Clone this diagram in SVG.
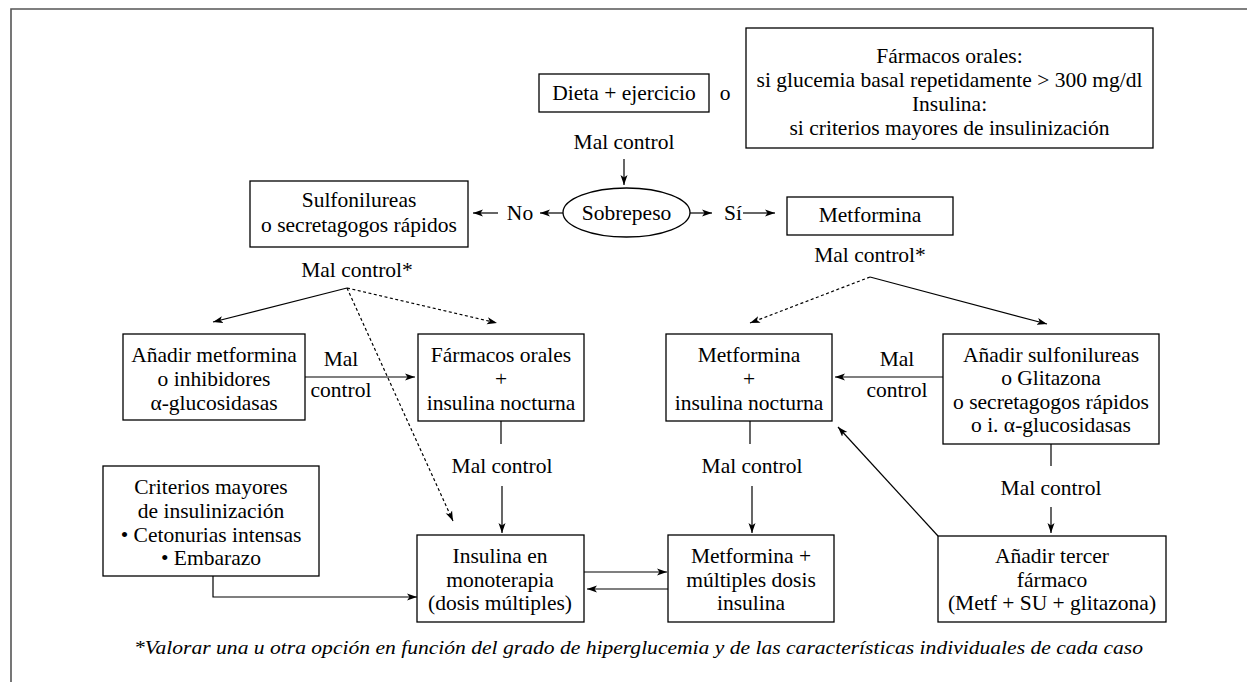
<svg xmlns="http://www.w3.org/2000/svg" width="1247" height="682" viewBox="0 0 1247 682">
<defs>
<marker id="ah" markerWidth="10" markerHeight="8" refX="10" refY="4" orient="auto" markerUnits="userSpaceOnUse"><path d="M0,0.5 L10,4 L0,7.5 L2.5,4 z" fill="#000" stroke="none"/></marker>
</defs>
<style>
text{font-family:"Liberation Serif","Times New Roman",serif;font-size:21.5px;fill:#000;text-anchor:middle}
.box{fill:#fff;stroke:#000;stroke-width:1.3}
.ln{fill:none;stroke:#000;stroke-width:1.2}
.ar{marker-end:url(#ah)}
.dash{stroke-dasharray:3 2.5}
.frame{stroke:#555;stroke-width:1.6;fill:none}
.note{font-style:italic;font-size:19px}
</style>
<rect width="1247" height="682" fill="#fff"/>
<path class="frame" d="M11,682 V9 H1247"/>

<g id="connectors">
<path class="ln ar" d="M624,159 V185"/>
<path class="ln ar" d="M563,213 H540"/>
<path class="ln ar" d="M498,213 H473"/>
<path class="ln ar" d="M690,213 H712"/>
<path class="ln ar" d="M743,213 H775"/>
<path class="ln ar" d="M347,288 L213,322"/>
<path class="ln ar dash" d="M347,288 L497,323"/>
<path class="ln ar dash" d="M347,288 L453,521"/>
<path class="ln ar dash" d="M870,277 L750,323"/>
<path class="ln ar" d="M870,277 L1047,324"/>
<path class="ln ar" d="M305,377 H415"/>
<path class="ln ar" d="M943,377 H835"/>
<path class="ln" d="M501,421 V444"/>
<path class="ln" d="M750,421 V444"/>
<path class="ln" d="M1051,444 V466"/>
<path class="ln ar" d="M502,486 V533"/>
<path class="ln ar" d="M752,486 V533"/>
<path class="ln ar" d="M1051,507 V533"/>
<path class="ln ar" d="M213,576 V597 H417"/>
<path class="ln ar" d="M584,572 H667"/>
<path class="ln ar" d="M668,589 H587"/>
<path class="ln ar" d="M938,536 L838,427"/>
<text x="624" y="149">Mal control</text>
<text x="520" y="220">No</text>
<text x="733" y="220">Sí</text>
<text x="357" y="277">Mal control*</text>
<text x="870" y="262">Mal control*</text>
<text x="341" y="366">Mal</text>
<text x="341" y="397">control</text>
<text x="897" y="366">Mal</text>
<text x="897" y="397">control</text>
<text x="502" y="473">Mal control</text>
<text x="752" y="473">Mal control</text>
<text x="1051" y="495">Mal control</text>
</g>

<g id="dieta">
<rect class="box" x="539" y="74" width="170" height="38"/>
<text x="624" y="100">Dieta + ejercicio</text>
</g>
<g id="o-label"><text x="725" y="100">o</text></g>
<g id="farmacos-insulina">
<rect class="box" x="746" y="28" width="407" height="120"/>
<text x="949.5" y="63">Fármacos orales:</text>
<text x="949.5" y="87">si glucemia basal repetidamente &gt; 300 mg/dl</text>
<text x="949.5" y="111">Insulina:</text>
<text x="949.5" y="135">si criterios mayores de insulinización</text>
</g>
<g id="sobrepeso">
<ellipse class="box" cx="626.5" cy="212.5" rx="63.5" ry="24.5"/>
<text x="626.5" y="220">Sobrepeso</text>
</g>
<g id="sulfonilureas">
<rect class="box" x="250" y="181" width="218" height="66"/>
<text x="359" y="207">Sulfonilureas</text>
<text x="359" y="232">o secretagogos rápidos</text>
</g>
<g id="metformina">
<rect class="box" x="787" y="197" width="166" height="38"/>
<text x="870" y="222">Metformina</text>
</g>
<g id="anadir-metformina">
<rect class="box" x="123" y="334" width="182" height="86"/>
<text x="214" y="362">Añadir metformina</text>
<text x="214" y="386">o inhibidores</text>
<text x="214" y="410">α-glucosidasas</text>
</g>
<g id="farmacos-nocturna">
<rect class="box" x="418" y="334" width="166" height="87"/>
<text x="501" y="362">Fármacos orales</text>
<text x="501" y="386">+</text>
<text x="501" y="410">insulina nocturna</text>
</g>
<g id="metformina-nocturna">
<rect class="box" x="666" y="334" width="166" height="87"/>
<text x="749" y="362">Metformina</text>
<text x="749" y="386">+</text>
<text x="749" y="410">insulina nocturna</text>
</g>
<g id="anadir-sulfonilureas">
<rect class="box" x="943" y="334" width="216" height="110"/>
<text x="1051" y="362">Añadir sulfonilureas</text>
<text x="1051" y="385">o Glitazona</text>
<text x="1051" y="409">o secretagogos rápidos</text>
<text x="1051" y="432">o i. α-glucosidasas</text>
</g>
<g id="criterios">
<rect class="box" x="103" y="466" width="216" height="110"/>
<text x="211" y="494">Criterios mayores</text>
<text x="211" y="518">de insulinización</text>
<text x="211" y="542">• Cetonurias intensas</text>
<text x="211" y="565">• Embarazo</text>
</g>
<g id="insulina-monoterapia">
<rect class="box" x="417" y="535" width="167" height="87"/>
<text x="500" y="563">Insulina en</text>
<text x="500" y="587">monoterapia</text>
<text x="500" y="610">(dosis múltiples)</text>
</g>
<g id="metformina-multiples">
<rect class="box" x="668" y="535" width="166" height="87"/>
<text x="751" y="563">Metformina +</text>
<text x="751" y="587">múltiples dosis</text>
<text x="751" y="610">insulina</text>
</g>
<g id="tercer-farmaco">
<rect class="box" x="938" y="536" width="228" height="86"/>
<text x="1052" y="563">Añadir tercer</text>
<text x="1052" y="587">fármaco</text>
<text x="1052" y="610">(Metf + SU + glitazona)</text>
</g>
<g id="footnote">
<text class="note" x="638.5" y="654" textLength="1009" lengthAdjust="spacingAndGlyphs">*Valorar una u otra opción en función del grado de hiperglucemia y de las características individuales de cada caso</text>
</g>
</svg>
